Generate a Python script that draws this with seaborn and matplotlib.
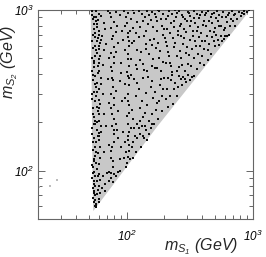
import numpy as np
import pandas as pd
import matplotlib
matplotlib.use("Agg")
import matplotlib.pyplot as plt
import seaborn as sns
from matplotlib.ticker import FixedLocator, LogLocator, NullFormatter

# ---------------- data (GeV) ----------------
# allowed (gray) region boundary
region_m1 = [52, 53, 54, 54.5, 175, 955, 1000, 52]
region_m2 = [1000, 300, 75, 56, 188, 1000, 1000, 1000]

# isolated light-gray points outside the region
outlier_m1 = [20.2, 24.8, 28.3]
outlier_m2 = [79, 80.6, 87.5]

# black points, set A (m_S1, m_S2)
black_m1_a = [
    57, 60, 59, 55, 58, 61, 74, 76, 95, 99, 103, 108, 68, 84, 112, 118, 92,
    125, 132, 145, 152, 160, 170, 182, 195, 205, 218, 230, 245, 260, 275, 290,
    305, 320, 340, 360, 375, 395, 420, 440, 465, 490, 520, 545, 580, 610, 650,
    690, 730, 780, 820, 860, 900,
    135, 148, 163, 176, 190, 210, 225, 240, 258, 272, 285, 300, 318, 335, 352,
    370, 390, 410, 430, 455, 480, 505, 530, 560, 590, 620, 660, 700, 720,
    56, 58, 60, 57, 62, 55, 59, 61, 64, 66, 77, 79, 80, 76, 86, 90,
    102, 104, 103, 105, 101, 115, 122, 128, 138, 142, 150, 158, 165, 172, 180,
    188, 196, 205, 212, 220, 232, 240, 250, 262, 270, 282, 295, 308, 320, 332,
    345, 360, 372, 385, 400, 420, 440, 445, 480, 500, 530, 560, 590, 625, 120,
    135, 146, 175, 230, 290, 350, 265, 205, 160,
    56, 58, 60, 57, 62, 59, 55, 61, 65, 77, 78, 80, 76, 79, 88, 92,
    102, 104, 103, 105, 101, 115, 125, 132, 140, 148, 155, 163, 170, 178, 186,
    195, 205, 215, 225, 238, 250, 262, 275, 290, 305, 320, 112, 128, 150, 182,
    118, 345, 235,
    56, 58, 60, 57, 62, 59, 55, 61, 58, 77, 79, 80, 76, 78, 84, 90, 95,
    102, 104, 103, 105, 101, 115, 122, 130, 140, 150, 165, 135, 118, 112, 145, 125,
    55, 56, 55, 56, 55, 56, 56, 57, 57, 60, 62, 64, 70, 75, 78, 85, 80, 68,
    53, 54, 56, 53, 55, 54, 53, 56, 54, 53, 55, 54, 56, 53, 55, 57, 60, 62,
    58, 60, 63, 57, 61, 58, 60, 63, 61, 60, 62, 57, 59, 60, 58,
]
black_m2_a = [
    980, 945, 870, 820, 780, 740, 960, 900, 980, 905, 960, 880, 760, 800, 770, 720, 740,
    990, 950, 985, 930, 970, 910, 990, 940, 875, 985, 950, 905, 980, 930, 880,
    975, 920, 990, 950, 890, 970, 930, 990, 905, 960, 985, 930, 975, 910, 960,
    985, 940, 970, 955, 990, 975,
    860, 820, 780, 850, 800, 760, 830, 780, 740, 820, 760, 850, 790, 740, 830,
    780, 720, 850, 790, 740, 830, 770, 860, 800, 750, 840, 800, 860, 790,
    680, 640, 600, 560, 520, 480, 450, 420, 690, 560, 660, 590, 510, 440, 620, 470,
    680, 600, 530, 450, 410, 640, 560, 490, 690, 610, 530, 450, 660, 580, 500,
    420, 700, 630, 550, 470, 670, 590, 520, 440, 690, 610, 540, 460, 650, 570,
    500, 430, 680, 600, 520, 640, 560, 490, 680, 600, 650, 690, 660, 690, 430,
    460, 415, 435, 410, 415, 640, 555, 470, 605,
    390, 350, 320, 290, 260, 235, 215, 205, 300, 380, 330, 285, 245, 210, 360, 270,
    390, 340, 300, 255, 220, 370, 320, 270, 230, 385, 330, 285, 240, 210, 370,
    320, 280, 250, 365, 320, 290, 390, 340, 370, 395, 365, 210, 245, 205, 270,
    290, 390, 260,
    195, 180, 165, 150, 140, 128, 118, 110, 103, 190, 170, 150, 132, 115, 178, 140, 120,
    195, 175, 155, 132, 112, 185, 160, 140, 190, 170, 195, 165, 130, 150, 155, 185,
    98, 92, 86, 80, 75, 70, 66, 62, 59, 95, 88, 78, 96, 90, 85, 98, 95, 82,
    930, 700, 600, 505, 440, 365, 300, 270, 245, 185, 160, 135, 123, 108, 900, 850, 700, 620,
    540, 470, 380, 330, 275, 250, 225, 190, 172, 155, 120, 112, 92, 80, 72,
]

# black points, set B (m_S1, m_S2)
black_m1_b = [
    63, 66, 71, 79, 82, 88, 97, 106, 114, 121, 128, 139, 143, 156, 167, 173, 186,
    199, 214, 222, 236, 251, 266, 281, 296, 311, 327, 345, 365, 382, 402, 425,
    447, 472, 497, 512, 538, 571, 603, 635, 672, 710, 755, 805, 850, 930, 242,
    178, 113, 83,
    63, 65, 69, 72, 83, 94, 98, 109, 111, 126, 131, 137, 144, 153, 162, 169, 177,
    185, 193, 201, 209, 217, 226, 244, 256, 268, 277, 287, 301, 314, 326, 338,
    356, 366, 379, 394, 413, 434, 452, 471, 493, 515, 543, 575, 608, 650, 90,
    118, 250, 410,
    63, 66, 71, 73, 83, 86, 97, 98, 108, 110, 121, 127, 136, 143, 145, 158, 167,
    173, 183, 191, 200, 210, 220, 229, 243, 256, 268, 282, 298, 330, 160, 135,
    190, 212,
    63, 66, 69, 72, 82, 86, 88, 93, 97, 99, 108, 110, 113, 120, 127, 133, 138,
    143, 155, 160, 107, 116,
    58, 59, 60, 62, 65, 67, 72, 73, 82, 88, 60, 57,
    53, 54, 55, 56, 53, 54, 56, 55, 53, 54, 56, 55, 53, 54, 56, 55, 53, 54, 56,
    55, 54, 54, 53, 55, 54, 55, 54, 55, 56, 57, 58, 59, 60, 61, 59, 58, 61, 58,
    59, 57,
    75, 78, 76, 79, 77, 78, 76, 80, 77, 79, 77, 76, 78, 75, 101, 103, 104, 102,
    105, 103, 104, 102, 105, 103, 99,
]
black_m2_b = [
    915, 835, 990, 845, 725, 930, 795, 735, 955, 845, 780, 905, 745, 865, 945, 735, 875,
    765, 915, 715, 860, 955, 790, 905, 725, 955, 850, 895, 745, 935, 810, 965,
    860, 940, 725, 895, 800, 905, 775, 935, 880, 930, 880, 915, 945, 995, 995,
    995, 995, 975,
    655, 455, 610, 505, 545, 655, 560, 495, 625, 675, 545, 425, 575, 655, 495, 435, 625,
    555, 475, 665, 595, 515, 445, 625, 695, 505, 455, 665, 585, 525, 445, 685,
    595, 535, 465, 645, 575, 685, 615, 535, 645, 695, 605, 645, 685, 695, 405,
    455, 415, 455,
    345, 225, 370, 265, 315, 235, 345, 285, 395, 240, 350, 205, 380, 305, 255, 360, 310,
    265, 340, 235, 380, 320, 290, 395, 350, 330, 370, 385, 355, 385, 225, 215,
    290, 380,
    175, 130, 190, 145, 195, 160, 118, 175, 150, 130, 185, 140, 120, 195, 170, 190, 160,
    180, 185, 195, 118, 165,
    86, 76, 67, 73, 92, 75, 86, 98, 92, 99, 64, 60,
    980, 880, 760, 720, 640, 580, 520, 470, 420, 395, 345, 310, 280, 225, 205,
    195, 170, 150, 140, 115, 105, 96, 90, 83, 78, 73, 68, 64, 60, 905, 815, 665,
    575, 495, 405, 310, 245, 200, 165, 130,
    770, 690, 540, 470, 420, 365, 300, 255, 225, 180, 140, 120, 105, 96, 830, 720,
    640, 495, 380, 270, 230, 165, 145, 122, 106,
]

black_m1 = black_m1_a + black_m1_b
black_m2 = black_m2_a + black_m2_b

x_ticks = [100, 1000]
x_tick_labels = [r"$10^{2}$", r"$10^{3}$"]
y_ticks = [100, 1000]
y_tick_labels = [r"$10^{2}$", r"$10^{3}$"]

df = pd.DataFrame({"m1": black_m1, "m2": black_m2})
df_out = pd.DataFrame({"m1": outlier_m1, "m2": outlier_m2})

# ---------------- style ----------------
sns.set_style("ticks")
plt.rcParams["font.family"] = ["Liberation Sans", "DejaVu Sans"]
plt.rcParams["mathtext.fontset"] = "custom"
plt.rcParams["mathtext.rm"] = "Liberation Sans:italic"
plt.rcParams["mathtext.it"] = "Liberation Sans:italic"
plt.rcParams["mathtext.sf"] = "Liberation Sans:italic"

fig = plt.figure(figsize=(2.66, 2.57), dpi=100)
ax = fig.add_axes([0.144, 0.148, 0.806, 0.813])
ax.set_xscale("log")
ax.set_yscale("log")

ax.fill(region_m1, region_m2, color="#c8c8c8", lw=0, zorder=1)
sns.scatterplot(data=df_out, x="m1", y="m2", marker="s", s=2.5, color="#bdbdbd",
                linewidth=0, ax=ax, zorder=2)
sns.scatterplot(data=df, x="m1", y="m2", marker="s", s=3.8, color="#0d0d0d",
                linewidth=0, ax=ax, zorder=3)

ax.set_xlim(20, 1000)
ax.set_ylim(50, 1000)

ax.xaxis.set_major_locator(FixedLocator(x_ticks))
ax.yaxis.set_major_locator(FixedLocator(y_ticks))
ax.set_xticklabels(x_tick_labels)
ax.set_yticklabels(y_tick_labels)
ax.xaxis.set_minor_locator(LogLocator(base=10, subs=range(2, 10)))
ax.yaxis.set_minor_locator(LogLocator(base=10, subs=range(2, 10)))
ax.xaxis.set_minor_formatter(NullFormatter())
ax.yaxis.set_minor_formatter(NullFormatter())

ax.tick_params(which="both", direction="in", top=True, right=True,
               color="#666666", width=0.7, labelsize=8.5, labelcolor="black")
ax.tick_params(which="major", length=5)
ax.tick_params(which="minor", length=3)
ax.tick_params(axis="x", which="major", pad=7)
ax.tick_params(axis="y", which="major", pad=3.5)

for sp in ax.spines.values():
    sp.set_visible(True)
    sp.set_color("#666666")
    sp.set_linewidth(0.8)

ax.set_xlabel(r"$m_{S_{1}}$ (GeV)", fontsize=11.5, fontstyle="italic")
ax.set_ylabel(r"$m_{S_{2}}$ (GeV)", fontsize=11.5, fontstyle="italic")
ax.xaxis.set_label_coords(0.76, -0.085)
ax.yaxis.set_label_coords(-0.085, 0.75)

fig.savefig("out.png", dpi=100)
